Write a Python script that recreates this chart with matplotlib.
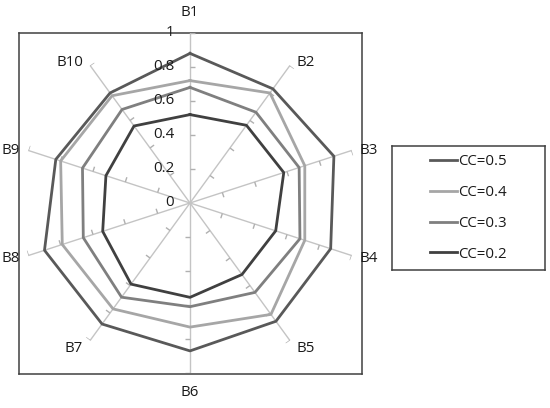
import numpy as np
import matplotlib
matplotlib.use('Agg')
import matplotlib.pyplot as plt
from matplotlib.lines import Line2D

plt.rcParams['font.family'] = ['Open Sans', 'DejaVu Sans']

# data
axes_names = ['B1', 'B2', 'B3', 'B4', 'B5', 'B6', 'B7', 'B8', 'B9', 'B10']
cc05 = [0.88, 0.83, 0.89, 0.87, 0.86, 0.87, 0.88, 0.90, 0.83, 0.80]
cc04 = [0.72, 0.80, 0.71, 0.71, 0.81, 0.73, 0.77, 0.79, 0.80, 0.78]
cc03 = [0.68, 0.66, 0.675, 0.68, 0.65, 0.61, 0.685, 0.66, 0.665, 0.68]
cc02 = [0.52, 0.565, 0.58, 0.53, 0.52, 0.555, 0.59, 0.54, 0.52, 0.56]
series_names = ['CC=0.5', 'CC=0.4', 'CC=0.3', 'CC=0.2']
r_ticks = [0, 0.2, 0.4, 0.6, 0.8, 1.0]

colors = ['#595959', '#a6a6a6', '#7f7f7f', '#404040']
W, H = 550, 408
fs = 10.8
tc = '#1a1a1a'

fig = plt.figure(figsize=(W / 100, H / 100), dpi=100)

# outer frame of the plot area
frame = fig.add_axes([18.5 / W, 34.5 / H, 343 / W, 340.5 / H])
frame.set_xticks([])
frame.set_yticks([])
for s in frame.spines.values():
    s.set_color('#404040')
    s.set_linewidth(1.1)

ax = fig.add_axes([20 / W, 35 / H, 340 / W, 340 / H], projection='polar')
ax.patch.set_alpha(0)
ax.set_theta_zero_location('N')
ax.set_theta_direction(-1)
ax.set_ylim(0, 1)
ax.spines['polar'].set_visible(False)

n = len(axes_names)
theta = np.arange(n) * 2 * np.pi / n
ax.set_xticks(theta)
ax.set_xticklabels([])
ax.set_yticks([])
ax.xaxis.grid(True, color='#c4c4c4', linewidth=1.0)

# tick marks on every spoke (clockwise side)
L = 5 / 170
for t in theta:
    for r in r_ticks[1:]:
        ax.plot([t, t + np.arctan(L / r)], [r, np.hypot(r, L)],
                color='#b0b0b0', lw=1.0, solid_capstyle='butt', zorder=2)

# series
for vals, name, c in zip([cc05, cc04, cc03, cc02], series_names, colors):
    v = list(vals) + [vals[0]]
    tt = list(theta) + [theta[0]]
    ax.plot(tt, v, color=c, lw=2.0, zorder=3, label=name)

# value labels along the B1 spoke
for r in r_ticks:
    ax.annotate('{:g}'.format(r), xy=(0, r), xytext=(-16, 0),
                textcoords='offset pixels', ha='right', va='center',
                fontsize=fs, color=tc, zorder=4)

# category labels
offs = [(0, 21), (7, 3), (8, 0), (8, -3), (7, -8),
        (0, -20), (-7, -8), (-8, -3), (-8, 0), (-7, 3)]
for t, name, (dx, dy) in zip(theta, axes_names, offs):
    ha = 'center' if dx == 0 else ('left' if dx > 0 else 'right')
    ax.annotate(name, xy=(t, 1), xytext=(dx, dy), textcoords='offset pixels',
                ha=ha, va='center', fontsize=fs, color=tc,
                annotation_clip=False)

# legend box
lax = fig.add_axes([392 / W, (H - 270) / H, 153 / W, 124 / H])
lax.set_xticks([])
lax.set_yticks([])
for s in lax.spines.values():
    s.set_color('#404040')
    s.set_linewidth(1.1)
handles = [Line2D([], [], color=c, lw=2.0) for c in colors]
leg = lax.legend(handles, series_names, loc='center', frameon=False,
                 fontsize=fs, handlelength=1.8, handletextpad=0.1,
                 labelspacing=1.05)
for txt in leg.get_texts():
    txt.set_color(tc)

fig.savefig('out.png', dpi=100)
